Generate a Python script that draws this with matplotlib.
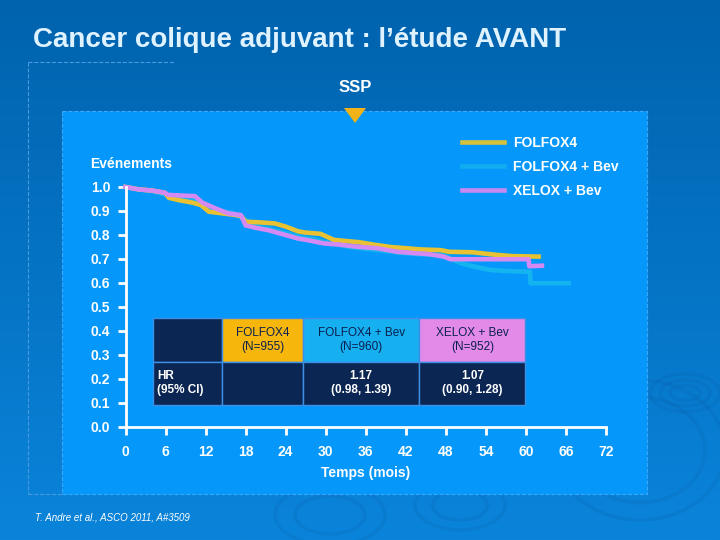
import numpy as np
import matplotlib; matplotlib.use('Agg')
import matplotlib.pyplot as plt
from matplotlib.patches import Rectangle, Ellipse, Polygon
from matplotlib.lines import Line2D

plt.rcParams['font.family'] = ['Liberation Sans', 'DejaVu Sans']
plt.rcParams['font.weight'] = 'bold'
plt.rcParams['axes.labelweight'] = 'bold'

# Kaplan-Meier curves (months, survival)
t_folfox = [0, 2, 4, 5.9, 6.5, 8, 10, 11.3, 12.5, 14, 16, 17.3, 18, 20, 22.4, 24, 25.9,
            27, 29.2, 31.2, 33, 35, 37.2, 39.7, 42, 44.2, 47.2, 48.5, 52, 55.7, 58, 61.9]
s_folfox = [1.0, 0.99, 0.985, 0.976, 0.955, 0.945, 0.935, 0.925, 0.897, 0.892, 0.885, 0.88,
            0.855, 0.853, 0.848, 0.835, 0.815, 0.81, 0.805, 0.78, 0.775, 0.77, 0.76, 0.75,
            0.745, 0.74, 0.737, 0.73, 0.728, 0.717, 0.712, 0.71]

t_folfox_bev = [0, 2, 4, 6, 8, 10, 12, 14, 16, 18, 20, 22, 24, 26, 28, 30, 33.7, 36.7, 41.2,
                44, 47.6, 50.2, 52, 54.7, 57, 60.6, 60.7, 66.4]
s_folfox_bev = [1.0, 0.99, 0.984, 0.968, 0.955, 0.945, 0.915, 0.9, 0.893, 0.862, 0.835, 0.822,
                0.808, 0.793, 0.783, 0.77, 0.75, 0.74, 0.726, 0.72, 0.717, 0.683, 0.67, 0.654,
                0.65, 0.647, 0.599, 0.599]

t_xelox = [0, 2, 4, 5.9, 6.4, 10.4, 11.5, 12.9, 14, 15.4, 17.3, 18, 19.5, 21.4, 24, 25.9, 27,
           29.7, 32, 34.7, 37.7, 40.7, 43, 45.5, 47.7, 48.7, 55, 60.4, 60.5, 62.4]
s_xelox = [1.0, 0.99, 0.985, 0.976, 0.967, 0.962, 0.935, 0.918, 0.905, 0.89, 0.883, 0.84, 0.83,
           0.82, 0.8, 0.785, 0.78, 0.765, 0.76, 0.751, 0.745, 0.73, 0.725, 0.72, 0.71, 0.699,
           0.699, 0.699, 0.67, 0.672]

labels = ['FOLFOX4', 'FOLFOX4 + Bev', 'XELOX + Bev']
xticks = [0, 6, 12, 18, 24, 30, 36, 42, 48, 54, 60, 66, 72]
yticks = [0.0, 0.1, 0.2, 0.3, 0.4, 0.5, 0.6, 0.7, 0.8, 0.9, 1.0]

table_text = [['', 'FOLFOX4\n(N=955)', 'FOLFOX4 + Bev\n(N=960)', 'XELOX + Bev\n(N=952)'],
              ['HR\n(95% CI)', '', '1.17\n(0.98, 1.39)', '1.07\n(0.90, 1.28)']]

W, H = 720, 540
fig = plt.figure(figsize=(7.2, 5.4), dpi=100)

# background gradient
bg = fig.add_axes([0, 0, 1, 1], zorder=-10)
grad = np.linspace(0, 1, 256).reshape(-1, 1)
c_top = np.array([0x00, 0x63, 0xae]) / 255.
c_bot = np.array([0x0a, 0x84, 0xda]) / 255.
img = c_top[None, None, :] * (1 - grad[:, :, None]) + c_bot[None, None, :] * grad[:, :, None]
bg.imshow(img, aspect='auto', extent=[0, W, H, 0])
bg.set_xlim(0, W); bg.set_ylim(H, 0)
bg.axis('off')
# faint ripples
for cx, cy, w, h in [(685, 393, 50, 26), (685, 393, 30, 15), (685, 393, 70, 38),
                     (330, 515, 110, 60), (330, 515, 70, 38), (460, 505, 90, 50),
                     (460, 505, 55, 30), (640, 450, 170, 140), (640, 450, 130, 105)]:
    bg.add_patch(Ellipse((cx, cy), w, h, fill=False, ec='#0a4f96', lw=2.5, alpha=0.12))

# lighter panel
bg.add_patch(Rectangle((62, 111), 585, 383, fc='#0598fa', ec='#3aa8ff', lw=0.8, ls='--'))
# dashed frame
bg.add_line(Line2D([28, 175], [62, 62], color='#4a9ae0', lw=0.8, ls='--'))
bg.add_line(Line2D([28, 28], [62, 494], color='#4a9ae0', lw=0.8, ls='--'))
bg.add_line(Line2D([28, 62], [494, 494], color='#4a9ae0', lw=0.8, ls='--'))
# triangle marker
bg.add_patch(Polygon([[344, 108], [366, 108], [355, 123]], closed=True, fc='#f2b318', ec='none'))

fig.text(33 / W, 1 - 40 / H, 'Cancer colique adjuvant : l\u2019étude AVANT', color='#dff2ff',
         fontsize=20, va='center', ha='left')
fig.text(355 / W, 1 - 88 / H, 'SSP', color='white', fontsize=12, ha='center', va='center')
fig.text(90 / W, 1 - 164 / H, 'Evénements', color='white', fontsize=10, ha='left', va='center')
fig.text(35 / W, 1 - 517 / H, 'T. Andre et al., ASCO 2011, A#3509', color='white', fontsize=7,
         style='italic', weight='normal', ha='left', va='center')

# main axes: x 0..72 -> px 125.5..606, y 0..1 -> px 427..187
ax = fig.add_axes([125.5 / W, 1 - 427 / H, (606 - 125.5) / W, (427 - 187) / H])
ax.set_facecolor('none')
ax.set_xlim(0, 72)
ax.set_ylim(0, 1)

l2, = ax.plot(t_folfox_bev, s_folfox_bev, color='#14b4f0', lw=3.3,
              clip_on=False, label=labels[1])
l1, = ax.plot(t_folfox, s_folfox, color='#e8c232', lw=3.3,
              clip_on=False, label=labels[0])
l3, = ax.plot(t_xelox, s_xelox, color='#d48af2', lw=3.3,
              clip_on=False, label=labels[2])

for sp in ['top', 'right']:
    ax.spines[sp].set_visible(False)
for sp in ['left', 'bottom']:
    ax.spines[sp].set_color('white')
    ax.spines[sp].set_linewidth(2)
ax.set_xticks(xticks)
ax.set_yticks(yticks)
ax.set_yticklabels(['%.1f' % v for v in yticks])
ax.tick_params(axis='both', direction='out', length=6, width=2, color='white',
               labelcolor='white', labelsize=10)
ax.tick_params(axis='x', pad=7)
ax.tick_params(axis='y', pad=5)
ax.set_xlabel('Temps (mois)', color='white', fontsize=10, labelpad=5)

leg = ax.legend(handles=[l1, l2, l3], loc='upper left', frameon=False,
                bbox_to_anchor=(462 / W, 1 - 136 / H), bbox_transform=fig.transFigure,
                borderpad=0, borderaxespad=0, handlelength=3.0, handletextpad=0.7,
                labelspacing=0.72, prop={'size': 10, 'weight': 'bold'})
for txt in leg.get_texts():
    txt.set_color('white')
leg.get_lines()[0].set_color('#d4c23e')
leg.get_lines()[1].set_color('#10aef0')
leg.get_lines()[2].set_color('#c88af0')

# table (px 153..525 x 318..405)
x0 = (153 - 125.5) / 480.
y0 = (427 - 405) / 240.
tab = ax.table(cellText=table_text, colWidths=[69, 81, 116, 106], cellLoc='center',
               bbox=[x0, y0, (525 - 153) / 480., (405 - 318) / 240.])
tab.auto_set_font_size(False)
tab.set_fontsize(8.5)
head_colors = ['#0b2652', '#f6b60c', '#16b0f0', '#e38ae8']
for (r, c), cell in tab.get_celld().items():
    cell.set_edgecolor('#3d8ee6')
    cell.set_linewidth(1)
    if r == 0:
        cell.set_facecolor(head_colors[c])
        cell.get_text().set_color('#0b2050' if c > 0 else 'white')
        cell.get_text().set_fontweight('normal')
    else:
        cell.set_facecolor('#0b2652')
        cell.get_text().set_color('white')
tab[1, 0].PAD = 0.06
tab[1, 0].get_text().set_ha('left')
tab[1, 0].get_text().set_multialignment('left')

fig.savefig('out.png', dpi=100)
